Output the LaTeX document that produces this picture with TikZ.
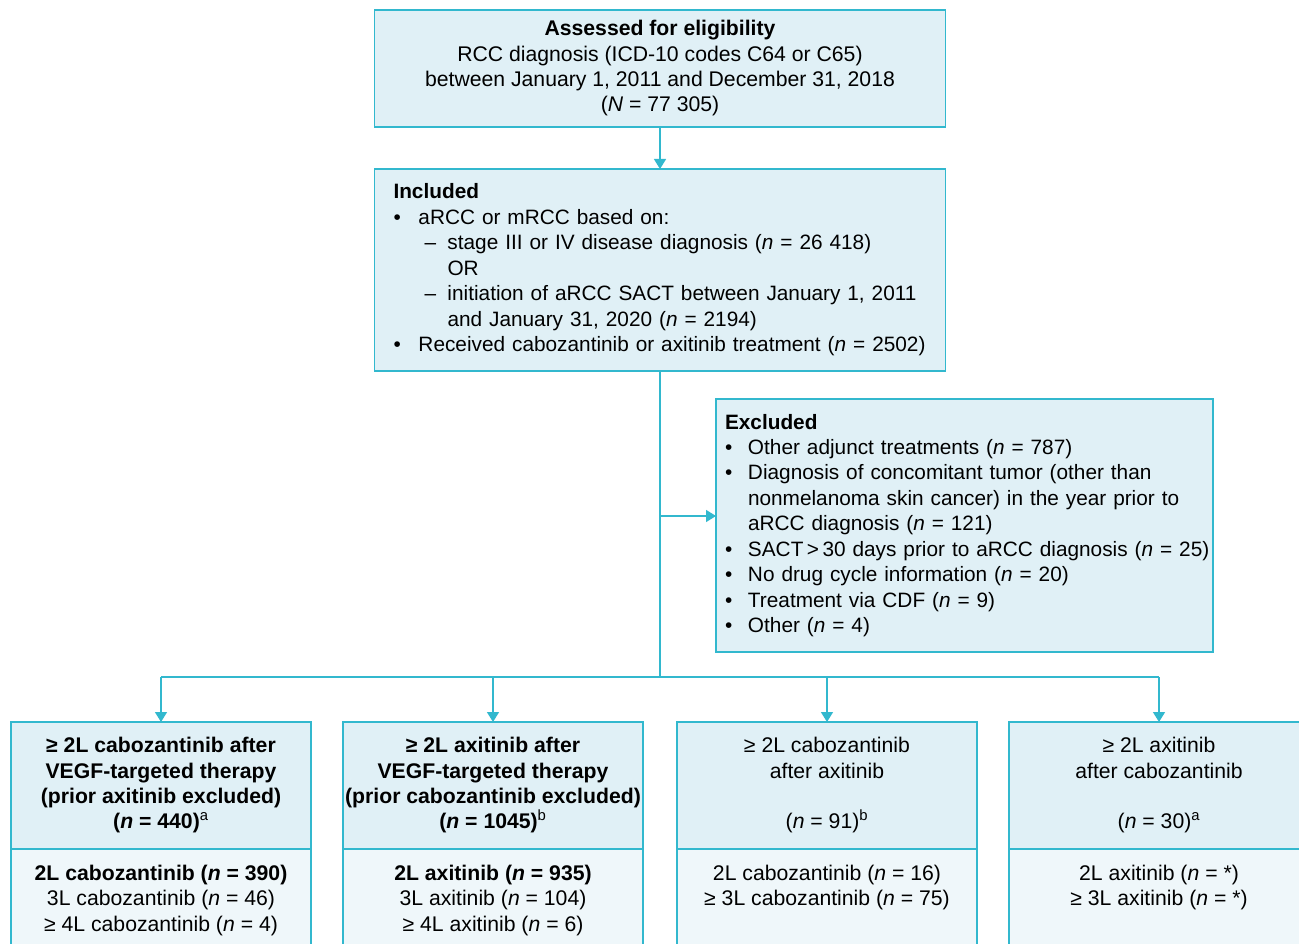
\documentclass[tikz,border=0pt]{standalone}
\usepackage{fontspec}
\setmainfont{Liberation Sans}
\usetikzlibrary{arrows.meta,positioning}
\definecolor{rccline}{RGB}{50,184,206}
\definecolor{rccfill}{RGB}{224,240,246}
\definecolor{rccpale}{RGB}{239,247,250}
\newcommand{\bul}{\makebox[18.75pt][l]{\textbullet}}
\newcommand{\xbul}{\makebox[17.25pt][l]{\textbullet}}
\newcommand{\dsh}{\hspace*{23.25pt}\makebox[17.25pt][l]{--}}
\newcommand{\nn}{{\itshape n}}

\begin{document}
\begin{tikzpicture}[x=0.75pt, y=-0.75pt,
    every node/.style={font=\fontsize{15.9}{19}\selectfont}]
    \tikzstyle{box}=[rectangle, draw=rccline, line width=1.1pt, fill=rccfill, outer sep=0pt]
    \tikzstyle{list}=[box, align=left, font=\fontsize{15.6}{19.1}\selectfont]
    \tikzstyle{arm}=[box, minimum width=225pt, minimum height=95.25pt, inner xsep=1pt, align=center]
    \tikzstyle{boldarm}=[arm, font=\fontsize{15.9}{19}\selectfont\bfseries]
    \tikzstyle{sub}=[box, fill=rccpale, minimum width=225pt, inner xsep=1pt, inner ysep=11.7pt, text height=50pt, text depth=40pt, align=center]
    \tikzstyle{link}=[draw=rccline, line width=1.1pt]
    \tikzstyle{connect}=[link, -{Triangle[length=7.5pt, width=9pt]}]

      \useasboundingbox (0,0) rectangle (1299,944);
      \clip (0,0) rectangle (1299,944);

      \node[box, anchor=north, minimum width=428.25pt, minimum height=87.75pt, align=center] (assessed) at (660,10)
        {\textbf{Assessed for eligibility}\\RCC diagnosis (ICD-10 codes C64 or C65)\\between January 1, 2011 and December 31, 2018\\(\textit{N} = 77 305)};
      \node[list, anchor=north, minimum height=151.5pt, text width=399.75pt, inner xsep=14.25pt] (included) at (660,169)
        {\textbf{Included}\\
         \bul aRCC or mRCC based on:\\
         \dsh stage III or IV disease diagnosis (\nn{} = 26 418)\\
         \hspace*{40.5pt}OR\\
         \dsh initiation of aRCC SACT between January 1, 2011\\
         \hspace*{40.5pt}and January 31, 2020 (\nn{} = 2194)\\
         \mbox{\bul Received cabozantinib or axitinib treatment (\nn{} = 2502)}};
      \node[list, minimum height=189.75pt, text width=359.25pt, inner xsep=6.75pt] (excluded) at (964.5,525.5)
        {\textbf{Excluded}\\
         \xbul Other adjunct treatments (\nn{} = 787)\\
         \xbul Diagnosis of concomitant tumor (other than\\
         \hspace*{17.25pt}nonmelanoma skin cancer) in the year prior to\\
         \hspace*{17.25pt}aRCC diagnosis (\nn{} = 121)\\
         \mbox{\xbul SACT\,>\,30 days prior to aRCC diagnosis (\nn{} = 25)}\\
         \xbul No drug cycle information (\nn{} = 20)\\
         \xbul Treatment via CDF (\nn{} = 9)\\
         \xbul Other (\nn{} = 4)};

      \node[boldarm] (cabovegf) at (161,785.5)
        {≥ 2L cabozantinib after\\VEGF-targeted therapy\\(prior axitinib excluded)\\(\nn{} = 440)\textsuperscript{\mdseries a}};
      \node[boldarm] (axivegf) at (493,785.5)
        {≥ 2L axitinib after\\VEGF-targeted therapy\\(prior cabozantinib excluded)\\(\nn{} = 1045)\textsuperscript{\mdseries b}};
      \node[arm] (caboaxi) at (827,785.5)
        {≥ 2L cabozantinib\\after axitinib\\[19pt](\nn{} = 91)\textsuperscript{b}};
      \node[arm] (axicabo) at (1159,785.5)
        {≥ 2L axitinib\\after cabozantinib\\[19pt](\nn{} = 30)\textsuperscript{a}};

      \node[sub] (cabovegfl) [below=0pt of cabovegf]
        {\textbf{2L cabozantinib (\nn{} = 390)}\\3L cabozantinib (\nn{} = 46)\\≥ 4L cabozantinib (\nn{} = 4)};
      \node[sub] (axivegfl) [below=0pt of axivegf]
        {\textbf{2L axitinib (\nn{} = 935)}\\3L axitinib (\nn{} = 104)\\≥ 4L axitinib (\nn{} = 6)};
      \node[sub, text height=31pt, text depth=59pt] (caboaxil) [below=0pt of caboaxi]
        {2L cabozantinib (\nn{} = 16)\\≥ 3L cabozantinib (\nn{} = 75)};
      \node[sub, text height=31pt, text depth=59pt] (axicabol) [below=0pt of axicabo]
        {2L axitinib (\nn{} = *)\\≥ 3L axitinib (\nn{} = *)};

      \coordinate (branch) at (660,516);
      \coordinate (split) at (660,677);
      \draw[connect] (assessed) -- (included);
      \draw[link] (included.south) -- (split);
      \draw[connect] (branch) -- (branch -| excluded.west);
      \draw[link] (cabovegf.north |- split) -- (axicabo.north |- split);
      \foreach \grp in {cabovegf,axivegf,caboaxi,axicabo}
        \draw[connect] (\grp.north |- split) -- (\grp.north);
\end{tikzpicture}
\end{document}
